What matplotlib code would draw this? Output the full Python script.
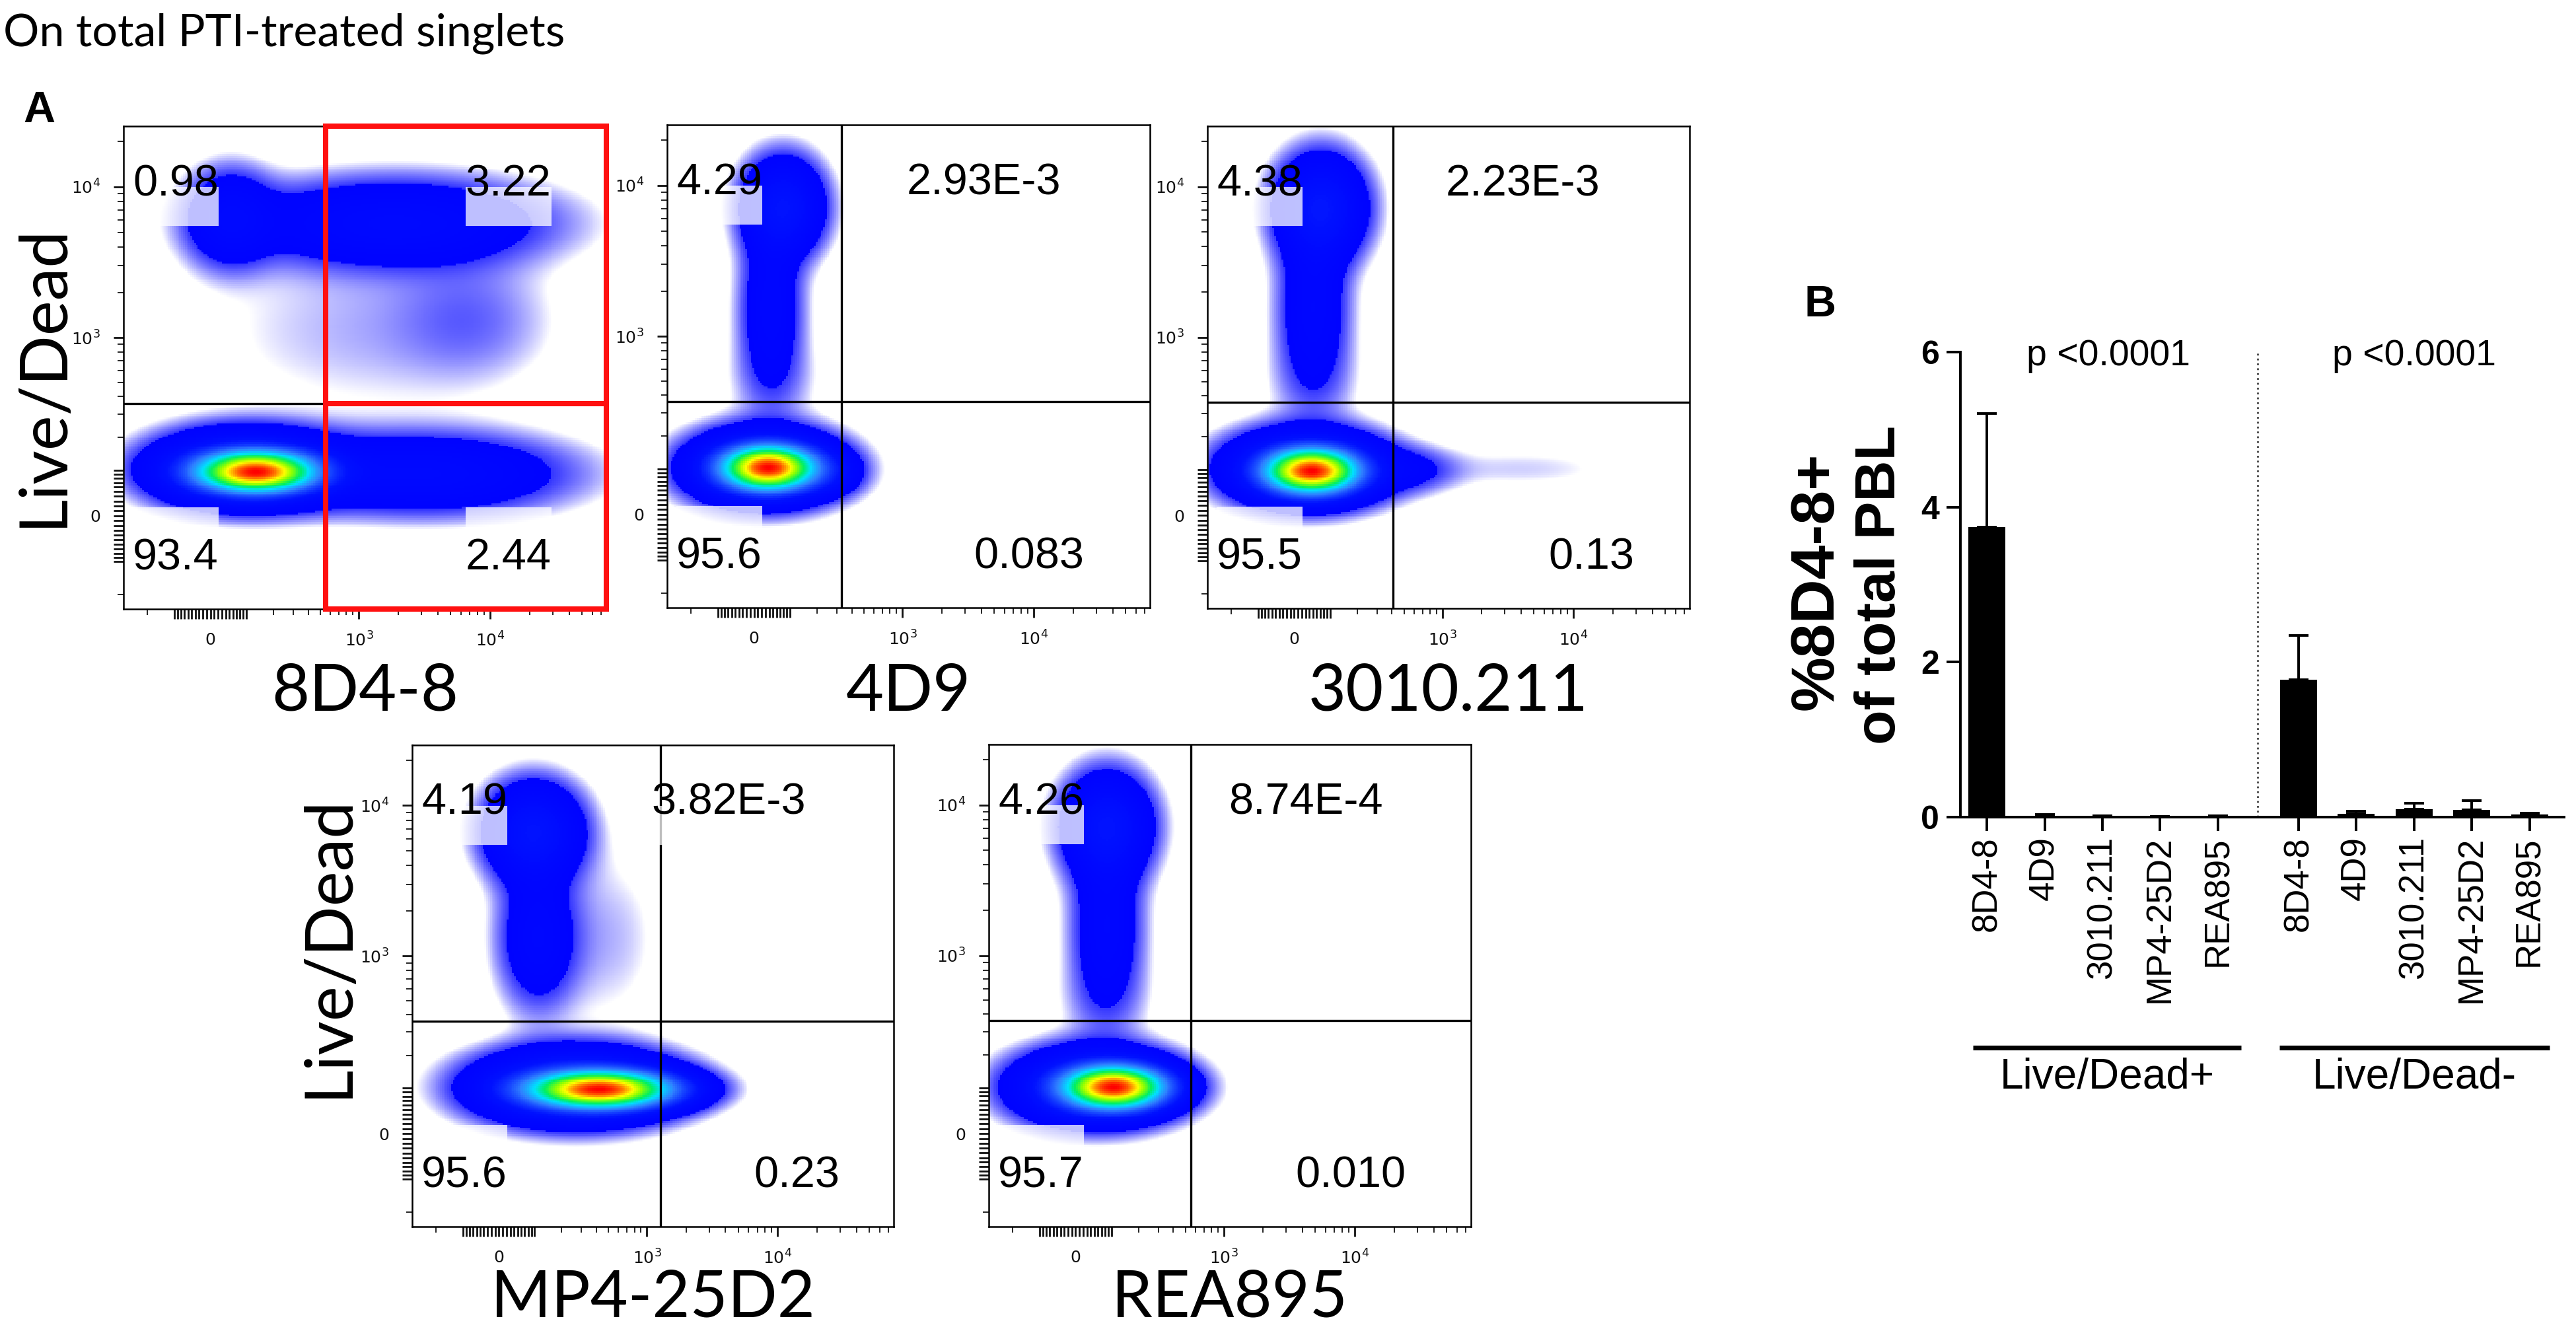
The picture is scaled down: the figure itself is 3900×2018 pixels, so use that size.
import numpy as np
import matplotlib
matplotlib.use("Agg")
import matplotlib.pyplot as plt
from matplotlib.colors import LinearSegmentedColormap
from matplotlib.patches import Rectangle

W, H = 3900, 2018

# ---------------- data ----------------
antibodies = ["8D4-8", "4D9", "3010.211", "MP4-25D2", "REA895"]

# quadrant frequencies (%)
quad_tl = ["0.98", "4.29", "4.38", "4.19", "4.26"]
quad_tr = ["3.22", "2.93E-3", "2.23E-3", "3.82E-3", "8.74E-4"]
quad_bl = ["93.4", "95.6", "95.5", "95.6", "95.7"]
quad_br = ["2.44", "0.083", "0.13", "0.23", "0.010"]

# quadrant gates (fluorescence units)
gate_x = [548, 329, 408, 1277, 553]
gate_y = [355, 360, 360, 360, 360]

# cell populations per plot: (x centre, y centre, x spread, y spread, weight)
# centres in fluorescence units, spreads as fraction of the axis
pop_8d48 = [(133, 96, 0.07, 0.024, 1.0), (93, 103, 0.11, 0.045, 0.12),
            (3085, 91, 0.18, 0.05, 0.04), (51, 6220, 0.055, 0.06, 0.035),
            (1855, 5785, 0.19, 0.055, 0.04), (7200, 1325, 0.1, 0.08, 0.007),
            (1113, 1144, 0.22, 0.12, 0.005)]
pop_4d9 = [(38, 103, 0.055, 0.026, 1.0), (25, 103, 0.09, 0.045, 0.12),
           (244, 91, 0.04, 0.025, 0.03), (79, 7210, 0.05, 0.06, 0.07),
           (45, 1536, 0.04, 0.1, 0.03), (51, 501, 0.06, 0.06, 0.006)]
pop_3010 = [(47, 97, 0.055, 0.026, 1.0), (32, 103, 0.095, 0.045, 0.12),
            (557, 99, 0.06, 0.028, 0.015), (3985, 103, 0.15, 0.03, 0.004),
            (72, 7210, 0.055, 0.065, 0.075), (51, 1536, 0.045, 0.1, 0.03),
            (51, 501, 0.06, 0.06, 0.006)]
pop_mp4 = [(430, 97, 0.085, 0.022, 1.0), (268, 103, 0.12, 0.045, 0.12),
           (96, 6700, 0.06, 0.06, 0.07), (109, 1325, 0.05, 0.09, 0.03),
           (468, 1325, 0.08, 0.12, 0.005)]
pop_rea = [(109, 102, 0.06, 0.025, 1.0), (55, 103, 0.097, 0.045, 0.12),
           (86, 7210, 0.055, 0.065, 0.07), (86, 1536, 0.045, 0.1, 0.03),
           (79, 501, 0.06, 0.06, 0.006)]
populations = [pop_8d48, pop_4d9, pop_3010, pop_mp4, pop_rea]

# bar chart B: %8D4-8+ of total PBL, mean and SEM
ld_pos_mean = [3.74, 0.02, 0.01, 0.005, 0.01]
ld_pos_sem = [1.47, 0.01, 0.01, 0.005, 0.01]
ld_neg_mean = [1.77, 0.04, 0.10, 0.09, 0.03]
ld_neg_sem = [0.57, 0.04, 0.08, 0.12, 0.02]

# ---------------- figure ----------------
fig = plt.figure(figsize=(W / 200, H / 200), dpi=200)

XW, YW = 149, 133
XLIM = (-326, 76900)
YLIM = (-259, 25150)

flow_cmap = LinearSegmentedColormap.from_list("flow", [
    (0.0, "#0000ff"), (0.06, "#0010ff"), (0.2, "#2f7fff"), (0.33, "#00e0ff"),
    (0.45, "#00f060"), (0.6, "#90ff00"), (0.72, "#ffff00"), (0.85, "#ff8000"),
    (1.0, "#ff0000")])


def density(blobs, n=260):
    ux = np.linspace(np.arcsinh(XLIM[0] / XW), np.arcsinh(XLIM[1] / XW), n + 1)
    uy = np.linspace(np.arcsinh(YLIM[0] / YW), np.arcsinh(YLIM[1] / YW), n + 1)
    UX, UY = np.meshgrid((ux[:-1] + ux[1:]) / 2, (uy[:-1] + uy[1:]) / 2)
    spx, spy = ux[-1] - ux[0], uy[-1] - uy[0]
    d = np.zeros_like(UX)
    for bx, by, sx, sy, w in blobs:
        d += w * np.exp(-0.5 * ((UX - np.arcsinh(bx / XW)) / (sx * spx)) ** 2
                        - 0.5 * ((UY - np.arcsinh(by / YW)) / (sy * spy)) ** 2)
    d = np.maximum(d / d.max(), 1e-12)
    rgba = flow_cmap(d)
    lo, solid = 2.5e-3, 0.012
    a = np.clip(np.log(d / lo) / np.log(solid / lo), 0, 1)
    rgba[..., 3] = np.where(d >= solid, 1.0, a * 0.8)
    return XW * np.sinh(ux), YW * np.sinh(uy), rgba


panel_px = [(187, 191, 731, 731), (1010, 189, 731, 731), (1828, 191, 730, 730),
            (624, 1128, 729, 729), (1497, 1127, 730, 730)]
tr_right = [0.886, 0.815, 0.814, 0.817, 0.817]
br_right = [0.886, 0.863, 0.885, 0.888, 0.865]

lin = list(range(10, 101, 10))
x_major = [-v for v in lin[::-1]] + [0] + lin + [1000, 10000]
x_minor = [-200] + list(range(200, 1000, 100)) + list(range(2000, 10000, 1000)) + list(range(20000, 80000, 10000))
y_minor = [-200] + list(range(200, 1000, 100)) + list(range(2000, 10000, 1000)) + [20000]
major_lab = ["" if v not in (0, 1000, 10000) else {0: "0", 1000: "$10^3$", 10000: "$10^4$"}[v] for v in x_major]

quad_font = dict(fontsize=24, family="Liberation Sans", zorder=6)
pale_boxes = []
for i, (l, t, w, h) in enumerate(panel_px):
    ax = fig.add_axes([l / W, 1 - (t + h) / H, w / W, h / H])
    ax.set_xscale("asinh", linear_width=XW)
    ax.set_yscale("asinh", linear_width=YW)
    xe, ye, rgba = density(populations[i])
    ax.pcolormesh(xe, ye, rgba, shading="flat", edgecolors="none", antialiased=False, zorder=1)
    ax.set_xlim(XLIM)
    ax.set_ylim(YLIM)

    ax.set_xticks(x_major, major_lab)
    ax.set_xticks(x_minor, minor=True)
    ax.set_yticks(x_major, major_lab)
    ax.set_yticks(y_minor, minor=True)
    ax.tick_params(which="major", direction="out", length=5.5, width=1.0, labelsize=9,
                   labelfontfamily="Liberation Sans Narrow", pad=7, colors="#111111")
    ax.tick_params(which="minor", direction="out", length=3.2, width=0.6)
    for s in ax.spines.values():
        s.set_linewidth(0.9)

    if i == 0:
        ax.plot([XLIM[0], gate_x[i]], [gate_y[i]] * 2, color="black", lw=1.2, zorder=3)
        ax.plot([gate_x[i], XLIM[1]], [gate_y[i]] * 2, color="#ff1010", lw=2.9, zorder=4,
                solid_capstyle="butt", clip_on=False)
        ax.add_patch(Rectangle((gate_x[i], YLIM[0]), XLIM[1] - gate_x[i], YLIM[1] - YLIM[0],
                               fill=False, edgecolor="#ff1010", lw=2.9, zorder=4, clip_on=False))
    else:
        ax.axhline(gate_y[i], color="black", lw=1.2, zorder=3)
        ax.axvline(gate_x[i], color="black", lw=1.2, zorder=3)

    tl = ax.text(0.02, 0.856, quad_tl[i], ha="left", va="baseline", transform=ax.transAxes, **quad_font)
    tr = ax.text(tr_right[i], 0.856, quad_tr[i], ha="right", va="baseline", transform=ax.transAxes, **quad_font)
    bl = ax.text(0.019, 0.082, quad_bl[i], ha="left", va="baseline", transform=ax.transAxes, **quad_font)
    br = ax.text(br_right[i], 0.082, quad_br[i], ha="right", va="baseline", transform=ax.transAxes, **quad_font)
    pale_boxes.append((ax, [tl, tr], [bl, br]))

# pale label backgrounds (label boxes washing out the events beneath)
fig.canvas.draw()
for ax, tops, bottoms in pale_boxes:
    inv = ax.transAxes.inverted()
    for txt, top in [(t, True) for t in tops] + [(b, False) for b in bottoms]:
        bb = txt.get_window_extent()
        (x0, y0), (x1, y1) = inv.transform([[bb.x0, bb.y0], [bb.x1, bb.y1]])
        base = txt.get_position()[1]
        if top:
            yb, yt = base - 0.063, base + 0.018
        else:
            yb, yt = base + 0.048, base + 0.129
        ax.add_patch(Rectangle((x0, yb), x1 - x0, yt - yb, transform=ax.transAxes,
                               facecolor="white", alpha=0.75, edgecolor="none", zorder=5))

# panel labels
for i, (l, t, w, h) in enumerate(panel_px):
    base = 1076 if i < 3 else 1993
    fig.text((l + w / 2) / W, 1 - base / H, antibodies[i], ha="center", va="baseline",
             family="Lato", fontsize=35.5)
fig.text(65 / W, 1 - 568 / H, "Live/Dead", rotation=90, ha="center", va="center", family="Lato", fontsize=36)
fig.text(497 / W, 1 - 1432 / H, "Live/Dead", rotation=90, ha="center", va="center", family="Lato", fontsize=36)

fig.text(5 / W, 1 - 70 / H, "On total PTI-treated singlets", family="Lato", fontsize=24.5, va="baseline")
fig.text(35 / W, 1 - 185 / H, "A", family="Liberation Sans", weight="bold", fontsize=24, va="baseline")
fig.text(2732 / W, 1 - 479 / H, "B", family="Liberation Sans", weight="bold", fontsize=24, va="baseline")

# ---------------- bar chart B ----------------
axb = fig.add_axes([2968 / W, 1 - 1237 / H, 914 / W, 704 / H])
pos1 = np.arange(5)
pos2 = np.arange(5) + 5.4
bw = 0.64
axb.bar(pos1, ld_pos_mean, width=bw, color="black", zorder=2)
axb.bar(pos2, ld_neg_mean, width=bw, color="black", zorder=2)
axb.errorbar(pos1, ld_pos_mean, yerr=[np.zeros(5), ld_pos_sem], fmt="none", ecolor="black",
             elinewidth=1.4, capsize=5.4, capthick=1.4, zorder=3)
axb.errorbar(pos2, ld_neg_mean, yerr=[np.zeros(5), ld_neg_sem], fmt="none", ecolor="black",
             elinewidth=1.4, capsize=5.4, capthick=1.4, zorder=3)
axb.set_xlim(-0.46, 10.0)
axb.set_ylim(0, 6)
axb.set_yticks([0, 2, 4, 6])
axb.set_yticklabels(["0", "2", "4", "6"], fontsize=18, weight="bold", family="Liberation Sans")
axb.set_xticks(np.concatenate([pos1, pos2]))
axb.set_xticklabels(antibodies + antibodies, rotation=90, fontsize=19, family="Liberation Sans")
axb.tick_params(axis="both", direction="out", length=7.5, width=1.4)
axb.tick_params(axis="x", pad=3)
axb.tick_params(axis="y", pad=4)
for s in ["top", "right"]:
    axb.spines[s].set_visible(False)
for s in ["left", "bottom"]:
    axb.spines[s].set_linewidth(1.4)

axb.plot([4.69, 4.69], [0, 6], ls=":", color="#444444", lw=1.0)
axb.text(2.1, 5.83, "p <0.0001", ha="center", va="baseline", fontsize=20, family="Liberation Sans")
axb.text(7.4, 5.83, "p <0.0001", ha="center", va="baseline", fontsize=20, family="Liberation Sans")

trans = axb.get_xaxis_transform()
axb.plot([-0.24, 4.4], [-0.496, -0.496], color="black", lw=2.6, transform=trans, clip_on=False,
         solid_capstyle="butt")
axb.plot([5.07, 9.75], [-0.496, -0.496], color="black", lw=2.6, transform=trans, clip_on=False,
         solid_capstyle="butt")
axb.text(2.08, -0.584, "Live/Dead+", transform=trans, ha="center", va="baseline", fontsize=23,
         family="Liberation Sans")
axb.text(7.41, -0.584, "Live/Dead-", transform=trans, ha="center", va="baseline", fontsize=23,
         family="Liberation Sans")

fig.text(2751 / W, 1 - 880 / H, "%8D4-8+", rotation=90, ha="center", va="center",
         fontsize=33.5, weight="bold", family="Liberation Sans")
fig.text(2847 / W, 1 - 885 / H, "of total PBL", rotation=90, ha="center", va="center",
         fontsize=31, weight="bold", family="Liberation Sans")

fig.savefig("out.png", dpi=200)
